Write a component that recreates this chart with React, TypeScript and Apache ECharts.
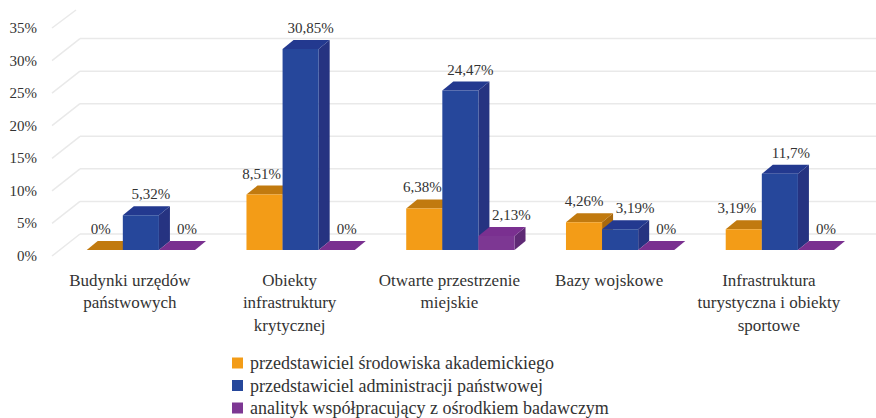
import React, { useEffect, useRef } from "react";
import * as echarts from "echarts";

const categories = [
  "Budynki urzędów\npaństwowych",
  "Obiekty\ninfrastruktury\nkrytycznej",
  "Otwarte przestrzenie\nmiejskie",
  "Bazy wojskowe",
  "Infrastruktura\nturystyczna i obiekty\nsportowe",
];
const academic = [0, 8.51, 6.38, 4.26, 3.19];
const government = [5.32, 30.85, 24.47, 3.19, 11.7];
const analyst = [0, 0, 2.13, 0, 0];
const valueTicks = [0, 5, 10, 15, 20, 25, 30, 35];

const seriesNames = [
  "przedstawiciel środowiska akademickiego",
  "przedstawiciel administracji państwowej",
  "analityk współpracujący z ośrodkiem badawczym",
];

const FONT = "'Liberation Serif', serif";
const TEXT = "#333333";
const GRID_COLOR = "#e9e9e9";

function fmt(v: number) {
  return String(v).replace(".", ",") + "%";
}

function barSeries(
  name: string,
  values: number[],
  slot: number,
  front: string,
  top: string,
  side: string,
  labelDx: number,
  labelNudge: number[]
) {
  return {
    type: "custom",
    name,
    itemStyle: { color: front },
    clip: false,
    z: 3 + slot,
    encode: { x: 0, y: 1 },
    data: values.map((v, i) => [i, v]),
    renderItem: (_p: any, api: any) => {
      const i = api.value(0);
      const v = api.value(1);
      const band = api.size([1, 0])[0];
      const w = band * 0.226;
      const lift = 6;
      const dx = 11;
      const dy = 9;
      const c = api.coord([i, v]);
      const b = api.coord([i, 0]);
      const x0 = c[0] + 11 + (slot - 1) * w - w / 2;
      const x1 = x0 + w;
      const yt = c[1] - lift;
      const yb = b[1] - lift;
      const children: any[] = [
        {
          type: "polygon",
          shape: { points: [[x1, yt], [x1 + dx, yt - dy], [x1 + dx, yb - dy], [x1, yb]] },
          style: { fill: side },
        },
        {
          type: "polygon",
          shape: { points: [[x0, yt], [x0 + dx, yt - dy], [x1 + dx, yt - dy], [x1, yt]] },
          style: { fill: top },
        },
      ];
      if (yb - yt > 0.1) {
        children.push({
          type: "rect",
          shape: { x: x0, y: yt, width: w, height: yb - yt },
          style: { fill: front },
        });
      }
      children.push({
        type: "text",
        z2: 50,
        style: {
          x: x0 + w / 2 + labelDx + labelNudge[i],
          y: yt - 21,
          text: fmt(v),
          fill: TEXT,
          font: `15px ${FONT}`,
          align: "center",
          verticalAlign: "middle",
        },
      });
      return { type: "group", children };
    },
  };
}

const wallSeries = {
  type: "custom",
  name: "walls",
  silent: true,
  clip: false,
  z: 1,
  encode: { x: 0, y: 1 },
  data: valueTicks.map((t) => [0, t]),
  renderItem: (params: any, api: any) => {
    const t = api.value(1);
    const p = api.coord([0, t]);
    const left = params.coordSys.x + 2;
    const right = params.coordSys.x + params.coordSys.width + 30;
    const isTop = t === valueTicks[valueTicks.length - 1];
    const y = p[1];
    const lineStyle = { stroke: GRID_COLOR, lineWidth: 1.5, fill: "none" };
    const children: any[] = [
      {
        type: "line",
        shape: { x1: left, y1: y, x2: left + (isTop ? 24 : 28), y2: y - (isTop ? 18 : 22) },
        style: lineStyle,
      },
    ];
    if (!isTop) {
      children.push({
        type: "line",
        shape: { x1: left + 28, y1: y - 22, x2: right, y2: y - 22 },
        style: lineStyle,
      });
    }
    return { type: "group", children };
  },
};

export default function App() {
  const ref = useRef<HTMLDivElement>(null);
  useEffect(() => {
    const chart = echarts.init(ref.current!, undefined, { renderer: "svg" });
    chart.setOption({
      animation: false,
      backgroundColor: "#ffffff",
      textStyle: { fontFamily: FONT },
      grid: { left: 50, top: 28, width: 798.75, height: 228, containLabel: false },
      xAxis: {
        type: "category",
        data: categories,
        axisLine: { show: false },
        axisTick: { show: false },
        splitLine: { show: false },
        axisLabel: {
          interval: 0,
          margin: 13,
          color: TEXT,
          fontFamily: FONT,
          fontSize: 17,
          lineHeight: 22.5,
        },
      },
      yAxis: {
        type: "value",
        min: 0,
        max: 35,
        interval: 5,
        axisLine: { show: false },
        axisTick: { show: false },
        splitLine: { show: false },
        axisLabel: {
          formatter: "{value}%",
          margin: 13,
          color: TEXT,
          fontFamily: FONT,
          fontSize: 15,
          padding: [3, 0, 0, 0],
        },
      },
      legend: {
        data: seriesNames,
        orient: "vertical",
        left: 232,
        top: 353,
        itemWidth: 11,
        itemHeight: 11,
        itemGap: 2.5,
        padding: 0,
        icon: "rect",
        textStyle: { color: TEXT, fontFamily: FONT, fontSize: 18, lineHeight: 20, padding: [0, 0, 0, 2] },
      },
      series: [
        wallSeries,
        barSeries(seriesNames[0], academic, 0, "#f39c17", "#c17a0f", "#a9690c", -1, [-3, -2, -1, 1, -6]),
        barSeries(seriesNames[1], government, 1, "#26479b", "#23398f", "#263381", 10, [0, 0, 0, 5, 1]),
        barSeries(seriesNames[2], analyst, 2, "#7d3793", "#7a3090", "#5f2a75", 10, [0, 0, 5, 0, 0]),
      ],
    });
    return () => chart.dispose();
  }, []);
  return (
    <div
      ref={ref}
      style={{ position: "fixed", left: 0, top: 0, width: 876, height: 418 }}
    />
  );
}
